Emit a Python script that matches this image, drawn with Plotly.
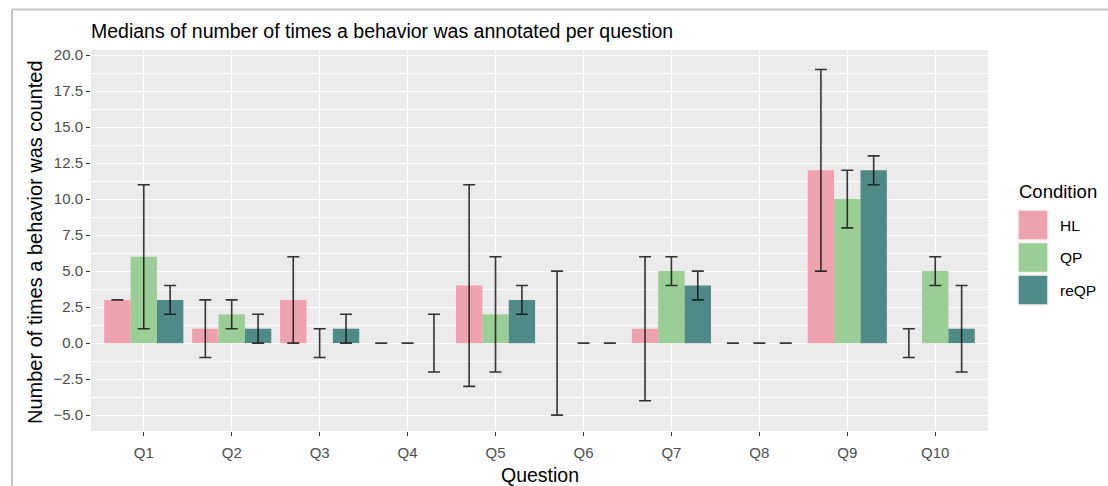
import plotly.graph_objects as go

# ---- data ----
questions = ["Q1", "Q2", "Q3", "Q4", "Q5", "Q6", "Q7", "Q8", "Q9", "Q10"]
conditions = ["HL", "QP", "reQP"]

hl_median = [3, 1, 3, 0, 4, 0, 1, 0, 12, 0]
hl_upper = [3, 3, 6, 0, 11, 5, 6, 0, 19, 1]
hl_lower = [3, -1, 0, 0, -3, -5, -4, 0, 5, -1]

qp_median = [6, 2, 0, 0, 2, 0, 5, 0, 10, 5]
qp_upper = [11, 3, 1, 0, 6, 0, 6, 0, 12, 6]
qp_lower = [1, 1, -1, 0, -2, 0, 4, 0, 8, 4]

reqp_median = [3, 1, 1, 0, 3, 0, 4, 0, 12, 1]
reqp_upper = [4, 2, 2, 2, 4, 0, 5, 0, 13, 4]
reqp_lower = [2, 0, 0, -2, 2, 0, 3, 0, 11, -2]

y_ticks = [-5, -2.5, 0, 2.5, 5, 7.5, 10, 12.5, 15, 17.5, 20]
y_minor = [-6.25, -3.75, -1.25, 1.25, 3.75, 6.25, 8.75, 11.25, 13.75, 16.25, 18.75]

colors = ["#EEA2AD", "#9BCE96", "#4F8A87"]

series = [
    (hl_median, hl_upper, hl_lower),
    (qp_median, qp_upper, qp_lower),
    (reqp_median, reqp_upper, reqp_lower),
]

W, H = 1108, 486
L, R, T, B = 91, 120, 50, 55
PW, PH = W - L - R, H - T - B
FONT = "Liberation Sans, Arial, sans-serif"


def px(x):
    return (x - L) / PW


def py(y):
    return (H - B - y) / PH


fig = go.Figure()
for name, col, (med, up, lo) in zip(conditions, colors, series):
    fig.add_trace(go.Bar(
        x=questions, y=med, name=name, marker=dict(color=col, line=dict(width=0)),
        showlegend=False,
        error_y=dict(type="data", symmetric=False,
                     array=[u - m for u, m in zip(up, med)],
                     arrayminus=[m - l for m, l in zip(med, lo)],
                     color="rgba(20,20,20,0.85)", thickness=1.6, width=6),
    ))

axis_font = dict(family=FONT, size=15, color="#4D4D4D")

fig.update_layout(
    width=W, height=H,
    margin=dict(l=L, r=R, t=T, b=B),
    paper_bgcolor="white", plot_bgcolor="#EBEBEB",
    barmode="group", bargap=0.1, bargroupgap=0,
    font=dict(family=FONT, color="black"),
    title=dict(text="Medians of number of times a behavior was annotated per question",
               xref="paper", x=0, xanchor="left", yref="container",
               y=1 - 31 / H, yanchor="middle",
               font=dict(size=19.5, color="black")),
    xaxis=dict(range=[-0.6, 9.6], showgrid=True, gridcolor="white", gridwidth=1.1,
               ticks="outside", ticklen=4, tickcolor="#333333", tickwidth=1,
               ticklabelstandoff=4,
               tickfont=axis_font, zeroline=False, showline=False),
    yaxis=dict(range=[-6.1, 20.35], tickmode="array", tickvals=y_ticks,
               tickformat=".1f", showgrid=True, gridcolor="white", gridwidth=1.1,
               minor=dict(tickmode="array", tickvals=y_minor,
                          showgrid=True, gridcolor="white", gridwidth=0.5, ticks=""),
               ticks="outside", ticklen=4, tickcolor="#333333", tickwidth=1,
               tickfont=axis_font, zeroline=False, showline=False),
)

annotations = [
    dict(text="Number of times a behavior was counted", xref="paper", yref="paper",
         x=px(35), y=py(242), textangle=-90, showarrow=False,
         font=dict(size=20, color="black"), xanchor="center", yanchor="middle"),
    dict(text="Question", xref="paper", yref="paper", x=0.5, y=py(475),
         showarrow=False, font=dict(size=19.5, color="black"),
         xanchor="center", yanchor="middle"),
    dict(text="Condition", xref="paper", yref="paper", x=px(1017), y=py(191),
         showarrow=False, font=dict(size=18.5, color="black"),
         xanchor="left", yanchor="middle"),
]
shapes = []
key_tops = [210, 242.5, 275]
for name, col, top in zip(conditions, colors, key_tops):
    shapes.append(dict(type="rect", xref="paper", yref="paper",
                       x0=px(1018), x1=px(1048), y0=py(top + 30), y1=py(top),
                       fillcolor=col, line=dict(color="#F2F2F2", width=1.5)))
    annotations.append(dict(text=name, xref="paper", yref="paper",
                            x=px(1058), y=py(top + 15), showarrow=False,
                            font=dict(size=15.5, color="black"),
                            xanchor="left", yanchor="middle"))

# screenshot frame
shapes.append(dict(type="line", xref="paper", yref="paper",
                   x0=px(12), x1=px(W + 2), y0=py(9.5), y1=py(9.5),
                   line=dict(color="#C4C4C4", width=2)))
shapes.append(dict(type="line", xref="paper", yref="paper",
                   x0=px(12), x1=px(12), y0=py(9.5), y1=py(H + 2),
                   line=dict(color="#C4C4C4", width=2)))

fig.update_layout(annotations=annotations, shapes=shapes)

fig.write_html("out.html", config={"displayModeBar": False},
               post_script="document.body.style.margin='0';document.body.style.overflow='hidden';")
